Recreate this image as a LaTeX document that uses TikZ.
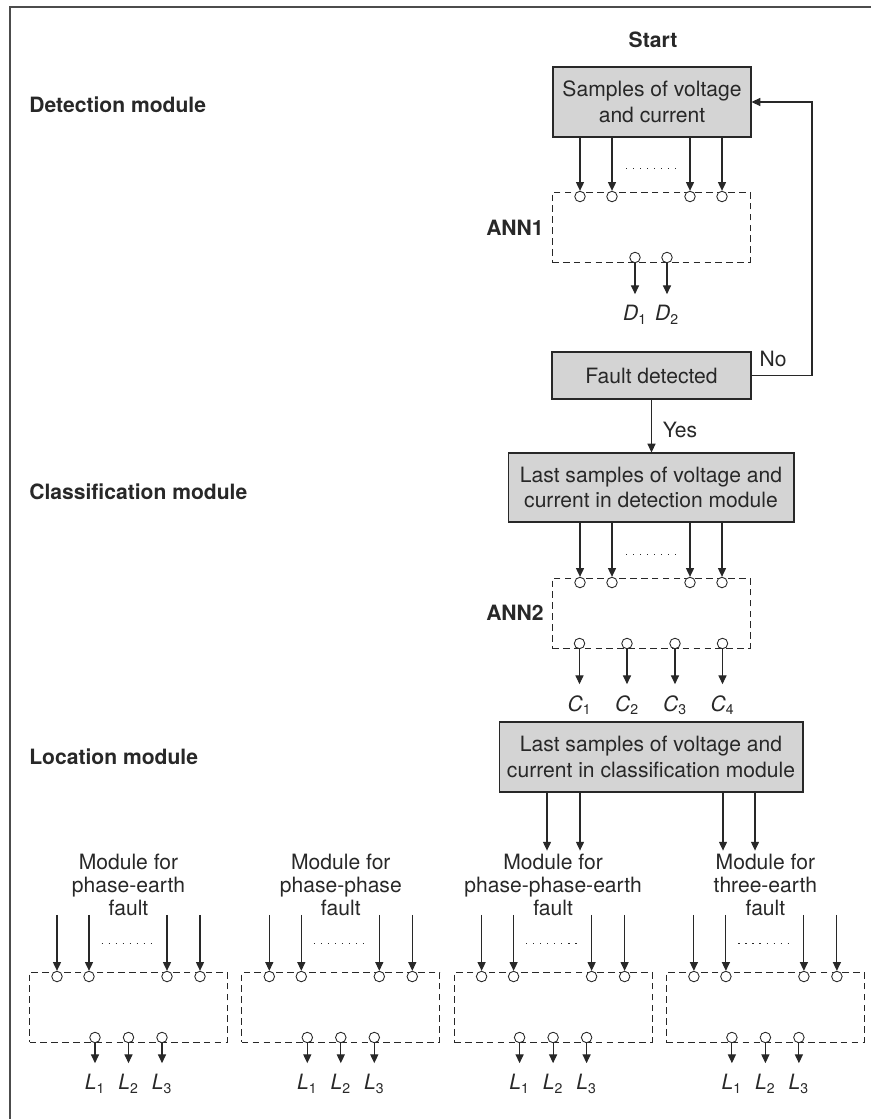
\documentclass[tikz,border=0pt]{standalone}
\usepackage{fontspec}
\setmainfont{TeX Gyre Heros}
\usetikzlibrary{arrows.meta,calc}
\definecolor{boxgray}{RGB}{212,212,212}
\definecolor{ink}{RGB}{40,40,40}
\newcommand\outlbl[2]{\textit{#1}\textsubscript{#2}}

\begin{document}
\begin{tikzpicture}[x=0.02cm,y=-0.02cm,
  every node/.style={text=ink,font=\fontsize{12}{14.5}\selectfont},
  proc/.style={draw=ink,line width=0.6pt,fill=boxgray,align=center,inner sep=0pt},
  net/.style={draw=ink,line width=0.55pt,dash pattern=on 3.8pt off 2.4pt,
    minimum width=3.96cm,minimum height=1.4cm,inner sep=0pt},
  port/.style={circle,draw=ink,fill=white,line width=0.5pt,minimum size=2.1mm,inner sep=0pt},
  arr/.style={draw=ink,line width=0.6pt,-{Triangle[length=5pt,width=4.6pt]}},
  dots/.style={draw=ink,line width=0.6pt,dash pattern=on 0.7pt off 3.3pt},
  modlabel/.style={font=\bfseries\fontsize{12}{14.5}\selectfont,inner sep=0pt},
  sym/.style={inner xsep=0pt,inner ysep=0.22cm},
  title/.style={align=center,inner sep=0pt,font=\fontsize{12}{13.2}\selectfont}]
  \useasboundingbox (0,0) rectangle (871,1119);
  \draw[line width=0.8pt,draw=black!70] (871,7) -- (10,7) -- (10,1119);

  % detection
  \node[modlabel] (start) at (653,40) {Start};
  \node[modlabel,anchor=west] (det) at (29,105) {Detection module};
  \node[proc,minimum width=3.96cm,minimum height=1.4cm] (samples) at (652,102)
    {Samples of voltage\\and current};
  \node[net] (ann1) at (651,227) {};
  \node[modlabel,anchor=east] (ann1lbl) at (544,228) {ANN1};
  \foreach \dx [count=\i] in {-71,-39,39,71} {
    \node[port] (ann1-i\i) at ($(ann1.north)+(\dx,5)$) {};
    \draw[arr] (ann1-i\i |- samples.south) -- (ann1-i\i.north);
  }
  \draw[dots] ($(ann1.north)+(-25,-23)$) -- ($(ann1.north)+(27,-23)$);
  \foreach \dx [count=\i] in {-16,16} {
    \node[port] (ann1-o\i) at ($(ann1.south)+(\dx,-5)$) {};
    \node[sym,anchor=north] (d\i) at ($(ann1-o\i.south)+(0,31)$) {\outlbl{D}{\i}};
    \draw[arr] (ann1-o\i) -- (d\i);
  }
  \node[proc,minimum width=3.98cm,minimum height=0.94cm] (fault) at (651.5,375.5) {Fault detected};
  \coordinate (turn) at (812,0);
  \draw[arr] (fault.east) -- (fault.east -| turn) -- (samples.east -| turn) -- (samples.east);
  \node (no) at (773,359) {No};

  % classification
  \node[modlabel,anchor=west] (cls) at (29,492) {Classification module};
  \node[proc,minimum width=5.72cm,minimum height=1.38cm] (lastdet) at (651,487.5)
    {Last samples of voltage and\\current in detection module};
  \draw[arr] (fault.south) -- (fault.south |- lastdet.north);
  \node (yes) at (680,430) {Yes};
  \node[net] (ann2) at (651,613) {};
  \node[modlabel,anchor=east] (ann2lbl) at (544,613) {ANN2};
  \foreach \dx [count=\i] in {-71,-39,39,71} {
    \node[port] (ann2-i\i) at ($(ann2.north)+(\dx,5)$) {};
    \draw[arr] (ann2-i\i |- lastdet.south) -- (ann2-i\i.north);
  }
  \draw[dots] ($(ann2.north)+(-25,-23)$) -- ($(ann2.north)+(27,-23)$);
  \foreach \dx [count=\i] in {-71.5,-24,24,71.5} {
    \node[port] (ann2-o\i) at ($(ann2.south)+(\dx,-5)$) {};
    \node[sym,anchor=north] (c\i) at ($(ann2-o\i.south)+(0,35)$) {\outlbl{C}{\i}};
    \draw[arr] (ann2-o\i) -- (c\i);
  }

  % location
  \node[modlabel,anchor=west] (loc) at (29,757) {Location module};
  \node[proc,minimum width=6.08cm,minimum height=1.4cm] (lastcls) at (651,757)
    {Last samples of voltage and\\current in classification module};
  \node[title] (t1) at (128.5,885) {Module for\\phase-earth\\fault};
  \node[title] (t2) at (340.8,885) {Module for\\phase-phase\\fault};
  \node[title] (t3) at (553.1,885) {Module for\\phase-phase-earth\\fault};
  \node[title] (t4) at (765.4,885) {Module for\\three-earth\\fault};
  \coordinate (s1) at (547,0);
  \coordinate (s2) at (580,0);
  \coordinate (s3) at (723,0);
  \coordinate (s4) at (755,0);
  \draw[arr] (s1 |- lastcls.south) -- ($(s1 |- t3.north)+(0,-3)$);
  \draw[arr] (s2 |- lastcls.south) -- ($(s2 |- t3.north)+(0,-3)$);
  \draw[arr] (s3 |- lastcls.south) -- ($(s3 |- t4.north)+(0,-3)$);
  \draw[arr] (s4 |- lastcls.south) -- ($(s4 |- t4.north)+(0,-3)$);
  \foreach \k in {1,...,4} {
    \node[net] (m\k) at ({128.5+212.3*(\k-1)},1007) {};
    \foreach \dx [count=\i] in {-71.5,-39.5,38.5,71.5} {
      \node[port] (m\k-i\i) at ($(m\k.north)+(\dx,5)$) {};
      \draw[arr] ($(m\k-i\i.north)+(0,-56)$) -- (m\k-i\i.north);
    }
    \draw[dots] ($(m\k.north)+(-27,-28)$) -- ($(m\k.north)+(26,-28)$);
    \foreach \dx [count=\i] in {-33.5,0,33.5} {
      \node[port] (m\k-o\i) at ($(m\k.south)+(\dx,-5)$) {};
      \node[sym,anchor=north] (m\k-l\i) at ($(m\k-o\i.south)+(0,20)$) {\outlbl{L}{\i}};
      \draw[arr] (m\k-o\i) -- (m\k-l\i);
    }
  }
\end{tikzpicture}
\end{document}
